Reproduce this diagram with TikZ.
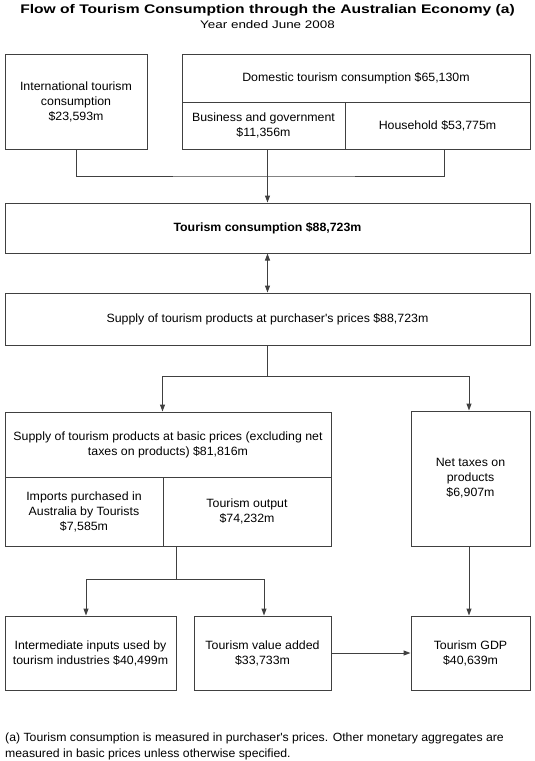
\documentclass[tikz,border=0pt]{standalone}
\usepackage{fontspec}
\setmainfont[FakeStretch=1.03]{Liberation Sans}
\newfontfamily\titlefont[FakeStretch=1.25]{Liberation Sans}
\newfontfamily\subfont[FakeStretch=1.22]{Liberation Sans}
\usetikzlibrary{arrows.meta,calc}

\begin{document}
\begin{tikzpicture}[x=1pt,y=-1pt,
  box/.style={draw=black!75, line width=1pt, align=center, inner sep=2pt,
    font=\fontsize{12}{15}\selectfont},
  ln/.style={draw=black!75, line width=1pt},
  arr/.style={ln, -{Triangle[length=7pt,width=5pt]}},
  darr/.style={ln, {Triangle[length=7pt,width=5pt]}-{Triangle[length=7pt,width=5pt]}}]
  \useasboundingbox (0,0) rectangle (535,761);

  \node[anchor=base, inner sep=0pt, font=\titlefont\fontsize{12.5}{15}\selectfont\bfseries] (title) at (267.5,13)
    {Flow of Tourism Consumption through the Australian Economy (a)};
  \node[anchor=base, inner sep=0pt, font=\subfont\fontsize{11}{13}\selectfont] (sub) at (267.5,28.5) {Year ended June 2008};

  % consumption
  \node[box, minimum width=142pt, minimum height=95pt] (intl) at (76,101.5)
    {International tourism\\consumption\\\$23,593m};
  \node[box, minimum width=348pt, minimum height=48pt] (dom) at (356,78)
    {Domestic tourism consumption \$65,130m};
  \node[box, minimum width=163pt, minimum height=47pt] (busi) at (263.5,125.5)
    {Business and government\\\$11,356m};
  \node[box, minimum width=185pt, minimum height=47pt] (house) at (437.5,125.5)
    {Household \$53,775m};

  \node[box, minimum width=525pt, minimum height=50pt] (cons) at (267.5,228)
    {\bfseries Tourism consumption \$88,723m};
  \node[box, minimum width=525pt, minimum height=52pt] (supply) at (267.5,319)
    {Supply of tourism products at purchaser\textquotesingle s prices \$88,723m};

  % supply
  \node[box, minimum width=326pt, minimum height=65pt] (basic) at (168,444.5)
    {Supply of tourism products at basic prices (excluding net\\taxes on products) \$81,816m};
  \node[box, minimum width=158pt, minimum height=69pt] (imports) at (84,511.5)
    {Imports purchased in\\Australia by Tourists\\\$7,585m};
  \node[box, minimum width=168pt, minimum height=69pt] (output) at (247,511.5)
    {Tourism output\\\$74,232m};
  \node[box, minimum width=119pt, minimum height=135pt] (taxes) at (470.5,478.5)
    {Net taxes on\\products\\\$6,907m};

  % output
  \node[box, minimum width=171pt, minimum height=74pt] (inter) at (90.5,653)
    {Intermediate inputs used by\\tourism industries \$40,499m};
  \node[box, minimum width=137pt, minimum height=74pt] (valadd) at (262.5,653)
    {Tourism value added\\\$33,733m};
  \node[box, minimum width=119pt, minimum height=74pt] (gdp) at (470.5,653)
    {Tourism GDP\\\$40,639m};

  \node[anchor=west, align=left, inner sep=0pt, font=\fontsize{11.9}{16}\selectfont] (note) at (5,746.6)
    {(a) Tourism consumption is measured in purchaser\textquotesingle s prices. Other monetary aggregates are\\
     measured in basic prices unless otherwise specified.};

  % connectors
  \coordinate (jn1) at (267.5,176);
  \draw[ln] (intl.south) |- (jn1) -| ($(house.south)+(6.5,0)$);
  \draw[arr] (busi.south -| cons.north) -- (cons.north);
  \draw[darr] (cons.south) -- (supply.north);

  \coordinate (jn2) at (267.5,376);
  \draw[ln] (supply.south) -- (jn2);
  \draw[arr] (jn2) -| (basic.north -| output.west);
  \draw[arr] (jn2) -| ($(taxes.north)+(-1.5,0)$);

  \coordinate (jn3) at (176,579.5);
  \draw[ln] (output.south -| jn3) -- (jn3);
  \draw[arr] (jn3) -| ($(inter.north)+(-4.5,0)$);
  \draw[arr] (jn3) -| ($(valadd.north)+(1.5,0)$);
  \draw[arr] ($(taxes.south)+(-1.5,0)$) -- ($(gdp.north)+(-1.5,0)$);
  \draw[arr] (valadd.east) -- (gdp.west);
\end{tikzpicture}
\end{document}
